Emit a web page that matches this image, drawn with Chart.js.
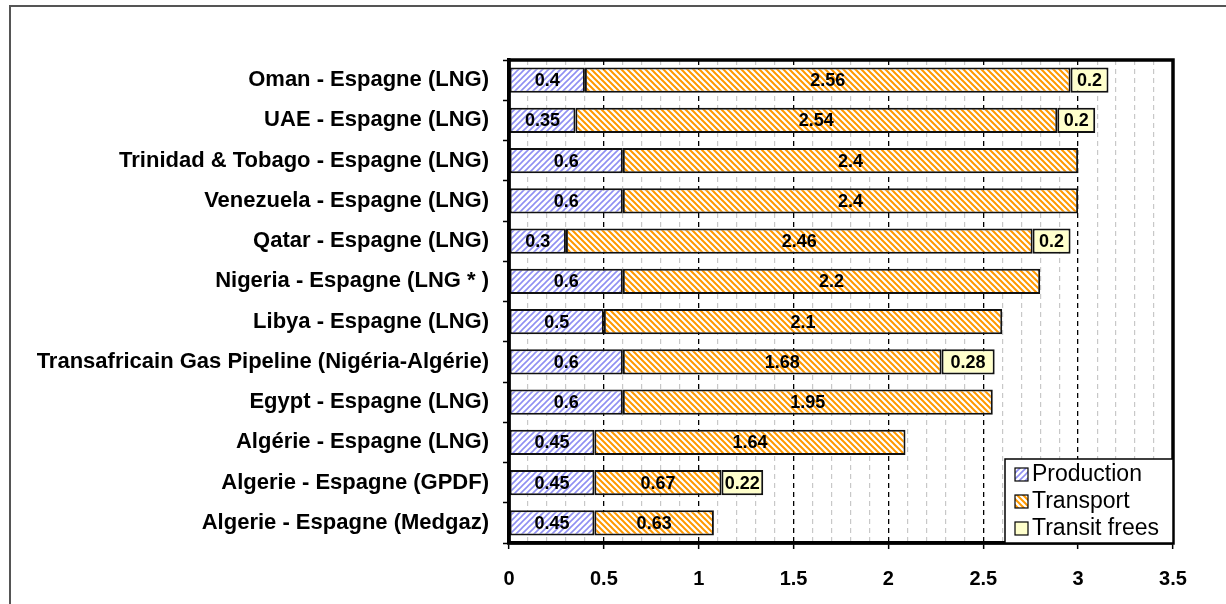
<!DOCTYPE html>
<html><head><meta charset="utf-8">
<script src="https://cdn.jsdelivr.net/npm/chart.js@4.4.0/dist/chart.umd.min.js"></script>
<style>
html,body{margin:0;padding:0;background:#fff;}
#wrap{position:relative;width:1226px;height:604px;overflow:hidden;background:#fff;}
#frame{position:absolute;left:9px;top:5px;width:1300px;height:700px;border-left:2px solid #555;border-top:2px solid #555;}
canvas{position:absolute;left:0;top:0;}
</style></head><body>
<div id="wrap"><div id="frame"></div><canvas id="c" width="1226" height="604"></canvas></div>
<script>
const categories = [
  "Oman - Espagne (LNG)",
  "UAE - Espagne (LNG)",
  "Trinidad & Tobago - Espagne (LNG)",
  "Venezuela - Espagne (LNG)",
  "Qatar - Espagne (LNG)",
  "Nigeria - Espagne (LNG * )",
  "Libya - Espagne (LNG)",
  "Transafricain Gas Pipeline (Nigéria-Algérie)",
  "Egypt - Espagne (LNG)",
  "Algérie - Espagne (LNG)",
  "Algerie - Espagne (GPDF)",
  "Algerie - Espagne (Medgaz)"
];
const production = [0.4, 0.35, 0.6, 0.6, 0.3, 0.6, 0.5, 0.6, 0.6, 0.45, 0.45, 0.45];
const transport  = [2.56, 2.54, 2.4, 2.4, 2.46, 2.2, 2.1, 1.68, 1.95, 1.64, 0.67, 0.63];
const transit    = [0.2, 0.2, null, null, 0.2, null, null, 0.28, null, null, 0.22, null];
const seriesNames = ["Production", "Transport", "Transit frees"];
const xMin = 0, xMax = 3.5, xMinor = 0.1, xMajor = 0.5;

const canvas = document.getElementById('c');
const mctx = canvas.getContext('2d');
function hatch(color, dir, lw){
  const s = 6, c = document.createElement('canvas'); c.width = c.height = s;
  const x = c.getContext('2d');
  x.fillStyle = '#fff'; x.fillRect(0,0,s,s);
  x.strokeStyle = color; x.lineWidth = lw; x.beginPath();
  if (dir > 0) {
    x.moveTo(-1,s+1); x.lineTo(s+1,-1);
    x.moveTo(-1,1); x.lineTo(1,-1);
    x.moveTo(s-1,s+1); x.lineTo(s+1,s-1);
  } else {
    x.moveTo(-1,-1); x.lineTo(s+1,s+1);
    x.moveTo(s-1,-1); x.lineTo(s+1,1);
    x.moveTo(-1,s-1); x.lineTo(1,s+1);
  }
  x.stroke();
  return mctx.createPattern(c,'repeat');
}
const prodFill = hatch('#8f8ff2', 1, 1.6);
const transFill = hatch('#ff9900', -1, 2);
const transitFill = '#ffffcc';

const isMajor = v => Math.abs(v/xMajor - Math.round(v/xMajor)) < 1e-6;

const labelPlugin = {
  id: 'barLabels',
  afterDatasetsDraw(chart){
    const ctx = chart.ctx;
    ctx.save();
    ctx.font = 'bold 18px "Liberation Sans", Arial, sans-serif';
    ctx.fillStyle = '#000';
    ctx.textAlign = 'center';
    ctx.textBaseline = 'middle';
    chart.data.datasets.forEach((ds, di) => {
      const meta = chart.getDatasetMeta(di);
      meta.data.forEach((el, i) => {
        const v = ds.data[i];
        if (v === null || v === undefined) return;
        const p = el.getCenterPoint();
        ctx.fillText(String(v), p.x, p.y + 1);
      });
    });
    ctx.restore();
  }
};

const framePlugin = {
  id: 'plotFrame',
  afterDraw(chart){
    const ctx = chart.ctx, a = chart.chartArea;
    ctx.save();
    ctx.strokeStyle = '#000'; ctx.lineWidth = 3.5;
    ctx.strokeRect(a.left, a.top, a.right - a.left, a.bottom - a.top);
    // legend
    const w = 168, h = 84;
    const lx = a.right - w, ly = a.bottom - h;
    ctx.fillStyle = '#fff';
    ctx.fillRect(lx, ly, w, h);
    ctx.lineWidth = 1.5;
    ctx.strokeRect(lx, ly, w, h);
    ctx.font = '23px "Liberation Sans", Arial, sans-serif';
    ctx.textBaseline = 'middle';
    ctx.textAlign = 'left';
    chart.data.datasets.forEach((ds, di) => {
      const cy = ly + 15 + di * 27;
      ctx.fillStyle = ds.backgroundColor;
      ctx.fillRect(lx + 10, cy - 6, 13, 13);
      ctx.strokeStyle = '#000'; ctx.lineWidth = 1.2;
      ctx.strokeRect(lx + 10, cy - 6, 13, 13);
      ctx.fillStyle = '#000';
      ctx.fillText(ds.label, lx + 27, cy + 1);
    });
    ctx.restore();
  }
};

const mkDs = (label, data, fill) => ({
  label, data, backgroundColor: fill, borderColor: '#111', borderWidth: 2,
  borderSkipped: false, categoryPercentage: 1.0, barPercentage: 0.63
});

new Chart(canvas, {
  type: 'bar',
  data: {
    labels: categories,
    datasets: [
      mkDs(seriesNames[0], production, prodFill),
      mkDs(seriesNames[1], transport, transFill),
      mkDs(seriesNames[2], transit, transitFill)
    ]
  },
  options: {
    indexAxis: 'y',
    responsive: false,
    animation: false,
    devicePixelRatio: 1,
    layout: { padding: { top: 60, right: 53, left: 0, bottom: 0 } },
    plugins: { legend: { display: false }, tooltip: { enabled: false }, title: { display: false } },
    scales: {
      x: {
        stacked: true,
        min: xMin, max: xMax,
        afterFit(s){ s.height = 61; },
        ticks: {
          stepSize: xMinor, autoSkip: false, maxRotation: 0,
          padding: 18, color: '#000',
          font: { family: '"Liberation Sans", Arial, sans-serif', size: 20, weight: 'bold' },
          callback(v){ return isMajor(v) ? String(Math.round(v*10)/10) : ''; }
        },
        grid: {
          drawOnChartArea: true, drawTicks: true, tickLength: 6,
          color: c => isMajor(c.tick ? c.tick.value : 0) ? '#000' : '#c8c8c8',
          lineWidth: c => isMajor(c.tick ? c.tick.value : 0) ? 1.3 : 1.2,
          tickColor: c => isMajor(c.tick ? c.tick.value : 0) ? '#000' : 'rgba(0,0,0,0)',
          tickWidth: 1.5
        },
        border: { display: true, color: '#000', width: 3.5, dash: [5, 4] }
      },
      y: {
        stacked: true,
        afterFit(s){ s.width = 509; },
        ticks: {
          padding: 14, color: '#000',
          font: { family: '"Liberation Sans", Arial, sans-serif', size: 22, weight: 'bold' }
        },
        grid: {
          offset: true, drawOnChartArea: false, drawTicks: true, tickLength: 6,
          tickColor: '#000', tickWidth: 1.5
        },
        border: { display: true, color: '#000', width: 3.5 }
      }
    }
  },
  plugins: [labelPlugin, framePlugin]
});
</script>
</body></html>
